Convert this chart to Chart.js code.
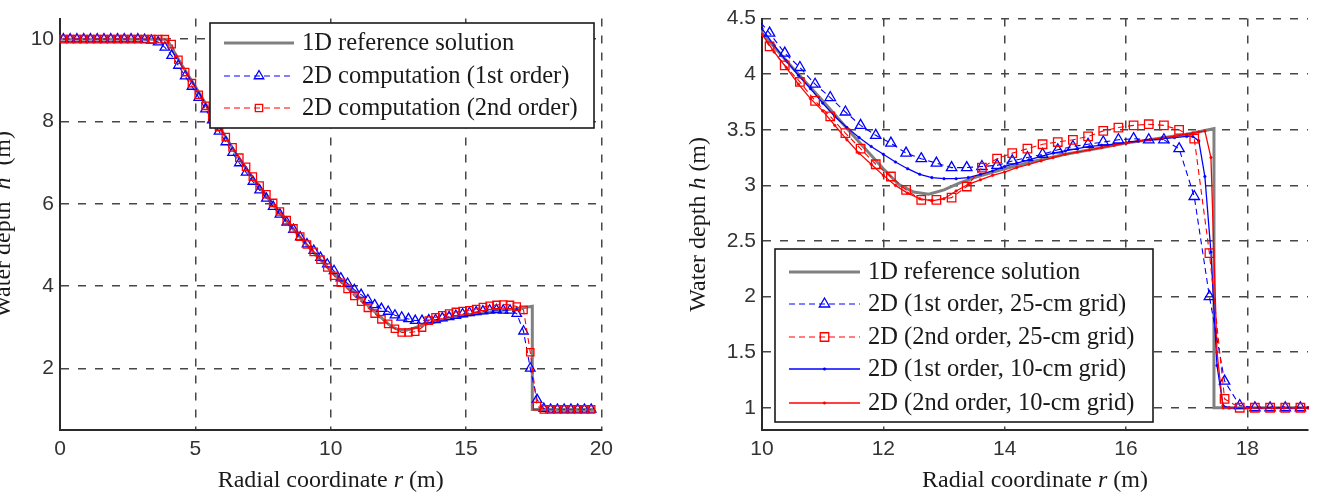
<!DOCTYPE html>
<html>
<head>
<meta charset="utf-8">
<script src="https://cdn.jsdelivr.net/npm/chart.js@4.4.1/dist/chart.umd.min.js"></script>
<style>
    html, body { margin: 0; padding: 0; background: #fff; }
    body { width: 1327px; height: 495px; position: relative; overflow: hidden; }
    .panel { position: absolute; top: 0; height: 495px; }
    #leftPanel { left: 0; width: 620px; }
    #rightPanel { left: 680px; width: 647px; }
</style>
</head>
<body>
<div class="panel" id="leftPanel"><canvas id="chartLeft" width="620" height="495"></canvas></div>
<div class="panel" id="rightPanel"><canvas id="chartRight" width="647" height="495"></canvas></div>
<script>
// ---- data ----

// 1D reference solution
const refR = [0, 3.95, 4.25, 4.5, 5.0, 5.5, 6.0, 6.5, 7.0, 7.5, 8.0, 8.5, 9.0, 9.5, 10.0, 10.5, 11.0, 11.5, 12.0, 12.25,
    12.5, 12.75, 13.0, 13.25, 13.5, 14.0, 14.5, 15.0, 15.5, 16.0, 16.5, 17.0, 17.45, 17.45, 19.75];
const refH = [10, 10, 9.65, 9.37, 8.85, 8.3, 7.75, 7.22, 6.74, 6.29, 5.87, 5.47, 5.09, 4.72, 4.37, 4.06, 3.76, 3.45, 3.15, 3.01,
    2.94, 2.92, 2.96, 3.02, 3.07, 3.15, 3.22, 3.28, 3.33, 3.38, 3.42, 3.46, 3.51, 1.0, 1.0];

// 25-cm grid cell centres
const r25 = [0.125, 0.375, 0.625, 0.875, 1.125, 1.375, 1.625, 1.875, 2.125, 2.375, 2.625, 2.875,
    3.125, 3.375, 3.625, 3.875, 4.125, 4.375, 4.625, 4.875, 5.125, 5.375, 5.625, 5.875,
    6.125, 6.375, 6.625, 6.875, 7.125, 7.375, 7.625, 7.875, 8.125, 8.375, 8.625, 8.875,
    9.125, 9.375, 9.625, 9.875, 10.125, 10.375, 10.625, 10.875, 11.125, 11.375, 11.625, 11.875,
    12.125, 12.375, 12.625, 12.875, 13.125, 13.375, 13.625, 13.875, 14.125, 14.375, 14.625, 14.875,
    15.125, 15.375, 15.625, 15.875, 16.125, 16.375, 16.625, 16.875, 17.125, 17.375, 17.625, 17.875,
    18.125, 18.375, 18.625, 18.875, 19.125, 19.375, 19.625];
// 2D, 1st order, 25-cm grid
const h1st25 = [10, 10, 10, 10, 10, 10, 10, 10, 10, 10, 10, 10,
    9.99, 9.97, 9.93, 9.8, 9.6, 9.36, 9.1, 8.85, 8.58, 8.3, 8.03, 7.76,
    7.5, 7.24, 6.99, 6.76, 6.54, 6.33, 6.13, 5.93, 5.74, 5.55, 5.37, 5.19,
    5.02, 4.86, 4.69, 4.53, 4.37, 4.19, 4.06, 3.91, 3.79, 3.66, 3.54, 3.45,
    3.38, 3.29, 3.24, 3.2, 3.16, 3.16, 3.17, 3.18, 3.22, 3.25, 3.28, 3.32,
    3.35, 3.37, 3.39, 3.41, 3.42, 3.41, 3.41, 3.33, 2.9, 2.0, 1.24, 1.02,
    1.0, 1.0, 1.0, 1.0, 1.0, 1.0, 1.0];
// 2D, 2nd order, 25-cm grid
const h2nd25 = [10, 10, 10, 10, 10, 10, 10, 10, 10, 10, 10, 10,
    10, 10, 10, 10, 9.88, 9.5, 9.2, 8.93, 8.65, 8.38, 8.12, 7.87,
    7.62, 7.37, 7.12, 6.9, 6.66, 6.44, 6.23, 6.02, 5.81, 5.6, 5.4, 5.2,
    5.01, 4.83, 4.64, 4.45, 4.25, 4.08, 3.93, 3.76, 3.62, 3.47, 3.33, 3.19,
    3.08, 2.96, 2.87, 2.87, 2.89, 2.99, 3.16, 3.24, 3.29, 3.33, 3.37, 3.39,
    3.41, 3.44, 3.49, 3.52, 3.54, 3.55, 3.54, 3.5, 3.42, 2.39, 1.08, 1.0,
    1.0, 1.0, 1.0, 1.0, 1.0, 1.0, 1.0];

// 10-cm grid (right panel only)
const r10 = [10.0, 10.2, 10.4, 10.6, 10.8, 11.0, 11.2, 11.4, 11.6, 11.8, 12.0, 12.2, 12.4, 12.6, 12.8,
    13.0, 13.2, 13.4, 13.6, 13.8, 14.0, 14.2, 14.4, 14.6, 14.8, 15.0, 15.2, 15.4, 15.6, 15.8,
    16.0, 16.2, 16.4, 16.6, 16.8, 17.0, 17.1, 17.2, 17.3, 17.4, 17.5, 17.6, 17.7, 17.8,
    18.0, 18.2, 18.4, 18.6, 18.8, 19.0];
const h1st10 = [4.41, 4.26, 4.12, 3.99, 3.87, 3.74, 3.62, 3.52, 3.43, 3.35, 3.28, 3.21, 3.15, 3.1, 3.07,
    3.06, 3.06, 3.07, 3.1, 3.13, 3.17, 3.2, 3.23, 3.26, 3.29, 3.31, 3.33, 3.35, 3.36, 3.37,
    3.38, 3.4, 3.41, 3.42, 3.43, 3.44, 3.44, 3.4, 3.08, 2.4, 1.38, 1.02, 1.0, 1.0,
    1.0, 1.0, 1.0, 1.0, 1.0, 1.0];
const h2nd10 = [4.36, 4.2, 4.06, 3.91, 3.78, 3.67, 3.54, 3.41, 3.29, 3.19, 3.09, 3.0, 2.93, 2.88, 2.86,
    2.88, 2.95, 3.01, 3.05, 3.09, 3.12, 3.16, 3.19, 3.22, 3.25, 3.28, 3.3, 3.32, 3.34, 3.36,
    3.38, 3.4, 3.41, 3.43, 3.44, 3.46, 3.47, 3.48, 3.49, 3.25, 1.5, 1.0, 1.0, 1.0,
    1.0, 1.0, 1.0, 1.0, 1.0, 1.0];

// axis ticks
const xTicksLeft = [0, 5, 10, 15, 20];
const yTicksLeft = [2, 4, 6, 8, 10];
const xTicksRight = [10, 12, 14, 16, 18];
const yTicksRight = [1, 1.5, 2, 2.5, 3, 3.5, 4, 4.5];

// ---- helpers ----
const SERIF = '"Liberation Serif", "Times New Roman", serif';
const SANS = '"Liberation Sans", Arial, sans-serif';
const BLUE = '#0000ff';
const RED = '#ff0000';

function toPoints(xs, ys) {
    return xs.map((x, i) => ({ x: x, y: ys[i] }));
}

function fixedTicks(values) {
    return (scale) => { scale.ticks = values.map(v => ({ value: v })); };
}

function drawParts(ctx, parts, cx, cy, size) {
    const fontFor = p => (p.italic ? 'italic ' : '') + size + 'px ' + SERIF;
    let total = 0;
    parts.forEach(p => { ctx.font = fontFor(p); total += ctx.measureText(p.text).width; });
    let x = cx - total / 2;
    ctx.textAlign = 'left';
    parts.forEach(p => {
        ctx.font = fontFor(p);
        ctx.fillText(p.text, x, cy);
        x += ctx.measureText(p.text).width;
    });
}

// axis titles with an italic symbol
const axisTitlePlugin = {
    id: 'axisTitles',
    afterDraw(chart, args, opts) {
        const ctx = chart.ctx;
        const area = chart.chartArea;
        ctx.save();
        ctx.fillStyle = opts.color;
        ctx.textBaseline = 'middle';
        drawParts(ctx, opts.xParts, (area.left + area.right) / 2, opts.xTitleY, opts.size);
        ctx.translate(opts.yTitleX, (area.top + area.bottom) / 2);
        ctx.rotate(-Math.PI / 2);
        drawParts(ctx, opts.yParts, 0, 0, opts.size);
        ctx.restore();
    }
};

// boxed legend, line sample with marker in the middle
const boxLegendPlugin = {
    id: 'boxLegend',
    afterDraw(chart, args, opts) {
        const ctx = chart.ctx;
        const [bx, by, bw, bh] = opts.box;
        ctx.save();
        ctx.fillStyle = '#fff';
        ctx.fillRect(bx, by, bw, bh);
        ctx.strokeStyle = '#1a1a1a';
        ctx.lineWidth = 1.6;
        ctx.strokeRect(bx, by, bw, bh);

        chart.data.datasets.forEach((ds, i) => {
            const y = opts.rowY[i];
            const [x1, x2] = opts.lineX;
            ctx.save();
            ctx.strokeStyle = ds.borderColor;
            ctx.lineWidth = ds.borderWidth;
            ctx.setLineDash(ds.borderDash || []);
            ctx.beginPath();
            ctx.moveTo(x1, y);
            ctx.lineTo(x2, y);
            ctx.stroke();
            ctx.setLineDash([]);
            if (ds.pointRadius > 0) {
                ctx.strokeStyle = ds.pointBorderColor;
                ctx.fillStyle = ds.pointBackgroundColor;
                ctx.lineWidth = ds.pointBorderWidth;
                Chart.helpers.drawPoint(ctx, {
                    pointStyle: ds.pointStyle,
                    radius: ds.pointRadius,
                    rotation: 0,
                    borderWidth: ds.pointBorderWidth
                }, (x1 + x2) / 2, y);
            }
            ctx.restore();

            ctx.fillStyle = '#1a1a1a';
            ctx.font = opts.size + 'px ' + SERIF;
            ctx.textAlign = 'left';
            ctx.textBaseline = 'middle';
            ctx.fillText(ds.label, opts.textX, y + 1);
        });
        ctx.restore();
    }
};

function refDataset(label) {
    return {
        label: label, data: toPoints(refR, refH), order: 5,
        borderColor: '#808080', borderWidth: 3, pointRadius: 0
    };
}

function coarseDataset(label, ys, color, style, radius, order) {
    return {
        label: label, data: toPoints(r25, ys), order: order,
        borderColor: color, borderWidth: 1.1, borderDash: [6, 4],
        pointStyle: style, pointRadius: radius, pointBorderWidth: 1.3,
        pointBorderColor: color, pointBackgroundColor: 'rgba(0,0,0,0)'
    };
}

function fineDataset(label, ys, color, order) {
    return {
        label: label, data: toPoints(r10, ys), order: order,
        borderColor: color, borderWidth: 1.3,
        pointStyle: 'circle', pointRadius: 1.3, pointBorderWidth: 0.5,
        pointBorderColor: color, pointBackgroundColor: color
    };
}

function axisOptions(min, max, ticks, fit) {
    return {
        type: 'linear', min: min, max: max,
        afterBuildTicks: fixedTicks(ticks),
        afterFit: fit,
        grid: { color: '#474747', lineWidth: 1.5, drawTicks: false },
        border: { display: true, color: '#2a2a2a', width: 2, dash: [8, 9] },
        ticks: {
            color: '#333', padding: 6, maxRotation: 0,
            font: { family: SANS, size: 21 },
            callback: v => String(v)
        }
    };
}

function makeChart(canvasId, datasets, scales, padding, legendOpts, titleOpts) {
    const ctx = document.getElementById(canvasId).getContext('2d');
    return new Chart(ctx, {
        type: 'line',
        data: { datasets: datasets },
        options: {
            responsive: false,
            animation: false,
            events: [],
            layout: { padding: padding },
            elements: { line: { tension: 0 } },
            datasets: { line: { clip: 1 } },
            scales: scales,
            plugins: {
                legend: { display: false },
                tooltip: { enabled: false },
                boxLegend: legendOpts,
                axisTitles: titleOpts
            }
        },
        plugins: [boxLegendPlugin, axisTitlePlugin]
    });
}

// ---- left panel ----
const xLeft = axisOptions(0, 20, xTicksLeft, s => { s.height = 65; });
xLeft.ticks.padding = 7;
makeChart('chartLeft', [
    refDataset('1D reference solution'),
    coarseDataset('2D computation (1st order)', h1st25, BLUE, 'triangle', 5.5, 2),
    coarseDataset('2D computation (2nd order)', h2nd25, RED, 'rect', 5.2, 1)
], {
    x: xLeft,
    y: axisOptions(0.5, 10.5, yTicksLeft, s => { s.width = 60; })
}, { left: 0, top: 13, right: 13, bottom: 0 }, {
    box: [210, 23, 384, 105],
    rowY: [43, 76, 108],
    lineX: [224, 294],
    textX: 302,
    size: 24.5
}, {
    color: '#1a1a1a', size: 24, xTitleY: 481, yTitleX: 4,
    xParts: [{ text: 'Radial coordinate ' }, { text: 'r', italic: true }, { text: ' (m)' }],
    yParts: [{ text: 'Water depth  ' }, { text: 'h', italic: true }, { text: '  (m)' }]
});

// ---- right panel ----
const xRight = axisOptions(10, 19, xTicksRight, s => { s.height = 65; });
xRight.ticks.padding = 7;
makeChart('chartRight', [
    refDataset('1D reference solution'),
    coarseDataset('2D (1st order, 25-cm grid)', h1st25, BLUE, 'triangle', 6, 2),
    coarseDataset('2D (2nd order, 25-cm grid)', h2nd25, RED, 'rect', 6, 1),
    fineDataset('2D (1st order, 10-cm grid)', h1st10, BLUE, 4),
    fineDataset('2D (2nd order, 10-cm grid)', h2nd10, RED, 3)
], {
    x: xRight,
    y: axisOptions(0.8, 4.5, yTicksRight, s => { s.width = 82; })
}, { left: 0, top: 14, right: 19, bottom: 0 }, {
    box: [95, 249, 378, 173],
    rowY: [272, 304, 337, 369, 403],
    lineX: [109, 180],
    textX: 188,
    size: 24.5
}, {
    color: '#1a1a1a', size: 24, xTitleY: 481, yTitleX: 19,
    xParts: [{ text: 'Radial coordinate ' }, { text: 'r', italic: true }, { text: ' (m)' }],
    yParts: [{ text: 'Water depth ' }, { text: 'h', italic: true }, { text: ' (m)' }]
});
</script>
</body>
</html>
